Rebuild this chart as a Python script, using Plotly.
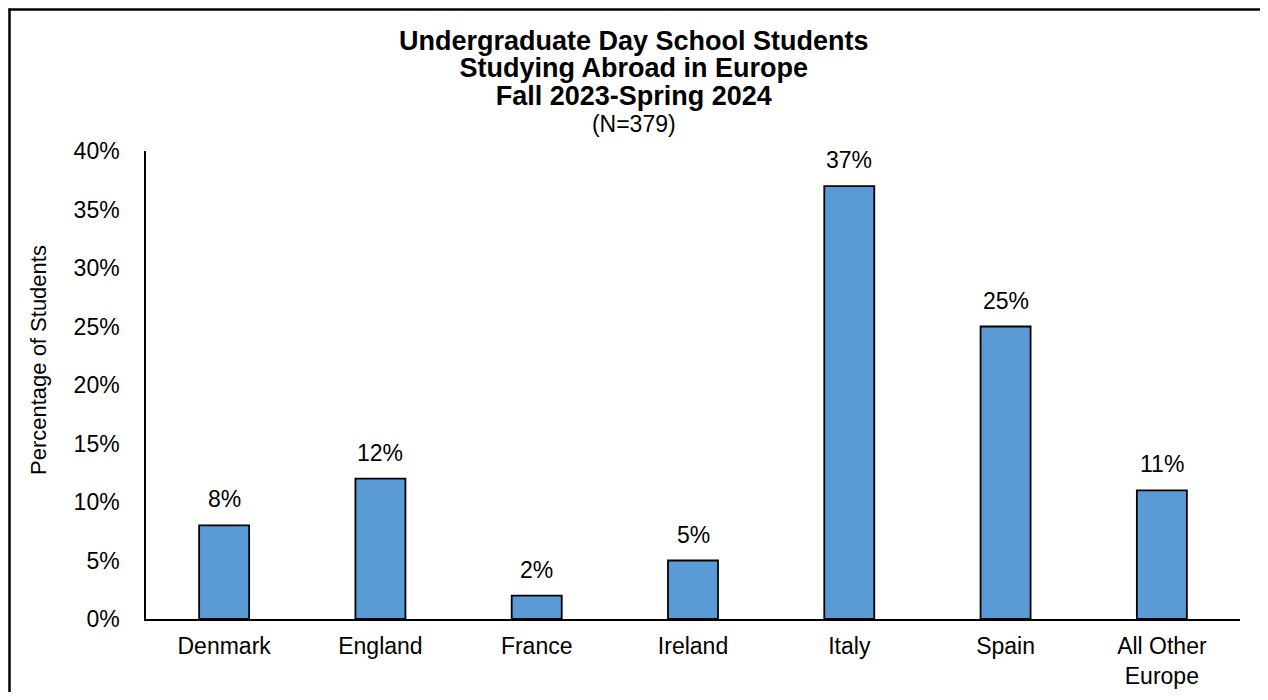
import plotly.graph_objects as go

categories = ["Denmark", "England", "France", "Ireland", "Italy", "Spain", "All Other<br>Europe"]
values = [8, 12, 2, 5, 37, 25, 11]
y_ticks = [0, 5, 10, 15, 20, 25, 30, 35, 40]
y_tick_labels = ["0%", "5%", "10%", "15%", "20%", "25%", "30%", "35%", "40%"]
title_lines = ["Undergraduate Day School Students",
               "Studying Abroad in Europe",
               "Fall 2023-Spring 2024"]
subtitle = "(N=379)"
y_title = "Percentage of Students"

FONT = "Arial, Liberation Sans, sans-serif"
OFF = 8  # browser default body margin
W, H = 1268 - OFF, 700 - 2 * OFF
L, R, T = 146 - OFF, 28, 151 - OFF
B = H - (619 - OFF)
PW, PH = W - L - R, H - T - B

def px_x(p):
    # p: pixel x in the 1268-wide window
    return (p - OFF - L) / PW

def px_y(p):
    # p: pixel y in the 700-high window
    return (H - B - (p - OFF)) / PH

fig = go.Figure()
fig.add_trace(go.Bar(
    x=categories, y=values,
    marker=dict(color="#5B9BD5", line=dict(color="#000000", width=1.8)),
    width=0.32,
    hoverinfo="skip",
))

annotations = []
for c, v in zip(categories, values):
    annotations.append(dict(x=c, y=v, xref="x", yref="y", text=f"{v}%",
                            showarrow=False, yanchor="bottom", yshift=11,
                            font=dict(size=23, color="#000000", family=FONT)))

title_text = "<br>".join(f"<span style='font-size:27px'><b>{t}</b></span>" for t in title_lines)
title_text += f"<br><span style='font-size:23px'>{subtitle}</span>"
annotations.append(dict(x=px_x(634), y=px_y(81), xref="paper", yref="paper",
                        text=title_text, showarrow=False, xanchor="center", yanchor="middle",
                        font=dict(size=21, color="#000000", family=FONT)))

annotations.append(dict(x=px_x(38), y=px_y(360), xref="paper", yref="paper",
                        text=y_title, textangle=-90, showarrow=False,
                        xanchor="center", yanchor="middle",
                        font=dict(size=22, color="#000000", family=FONT)))

border = dict(color="#000000", width=2.5)
fig.update_layout(
    width=W, height=H,
    margin=dict(l=L, r=R, t=T, b=B, pad=0, autoexpand=False),
    paper_bgcolor="white", plot_bgcolor="white",
    showlegend=False,
    font=dict(family=FONT, size=23, color="#000000"),
    annotations=annotations,
    shapes=[
        dict(type="line", xref="paper", yref="paper",
             x0=px_x(9.5), x1=px_x(9.5), y0=px_y(8.5), y1=px_y(692), line=border, layer="above"),
        dict(type="line", xref="paper", yref="paper",
             x0=px_x(8.5), x1=px_x(1262), y0=px_y(9.5), y1=px_y(9.5), line=border, layer="above"),
    ],
)
fig.update_xaxes(
    showline=True, linecolor="#000000", linewidth=1.5,
    showgrid=False, zeroline=False, ticks="", automargin=False,
    tickfont=dict(size=23, color="#000000", family=FONT),
    ticklabelstandoff=6,
)
fig.update_yaxes(
    range=[0, 40], tickmode="array", tickvals=y_ticks, ticktext=y_tick_labels,
    showline=True, linecolor="#000000", linewidth=1.5,
    showgrid=False, zeroline=False, ticks="", automargin=False,
    tickfont=dict(size=23, color="#000000", family=FONT),
    ticklabelstandoff=20,
)

fig.write_html("out.html")
